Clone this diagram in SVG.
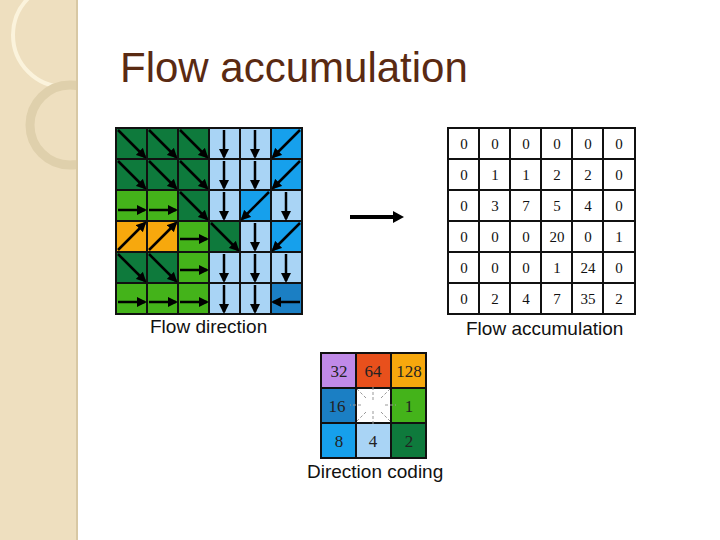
<svg xmlns="http://www.w3.org/2000/svg" width="720" height="540" viewBox="0 0 720 540">
<defs>
<marker id="ah" viewBox="0 0 10 10" refX="8" refY="5" markerWidth="4" markerHeight="4" orient="auto"><path d="M0,0L10,5L0,10z" fill="#000"/></marker>
<clipPath id="sb"><rect x="0" y="0" width="76" height="540"/></clipPath>
<style>
.c{stroke:#111;stroke-width:2}
.a{stroke:#000;stroke-width:2.5;fill:none;marker-end:url(#ah)}
.se{fill:#0e7a3c}.e{fill:#44b31a}.s{fill:#a9d4f5}.sw{fill:#16a0ec}.ne{fill:#f7a80d}.w{fill:#1b7fc4}
.lbl{font-family:"Liberation Sans",Arial,sans-serif;font-size:19px;fill:#111}
.n{font-family:"Liberation Serif","Times New Roman",serif;font-size:15px;fill:#111;text-anchor:middle}
.dc{font-family:"Liberation Serif","Times New Roman",serif;font-size:17px;fill:#222;text-anchor:middle}
</style>
</defs>
<rect width="720" height="540" fill="#fff"/>
<g id="sidebar">
<rect x="0" y="0" width="78" height="540" fill="#eedfbf"/>
<rect x="76" y="0" width="2" height="540" fill="#d8c8a4"/>
<g clip-path="url(#sb)">
<circle cx="65" cy="35" r="52" fill="none" stroke="#fbf3dc" stroke-width="4"/>
<circle cx="70" cy="125" r="40" fill="none" stroke="#dfd0ac" stroke-width="9"/>
</g>
</g>
<text x="120" y="82" font-family="Liberation Sans,Arial,sans-serif" font-size="42" fill="#5a2a12">Flow accumulation</text>
<g id="flow-direction">
<g class="c">
<rect class="se" x="116" y="128" width="31" height="31"/><rect class="se" x="147" y="128" width="31" height="31"/><rect class="se" x="178" y="128" width="31" height="31"/><rect class="s" x="209" y="128" width="31" height="31"/><rect class="s" x="240" y="128" width="31" height="31"/><rect class="sw" x="271" y="128" width="31" height="31"/>
<rect class="se" x="116" y="159" width="31" height="31"/><rect class="se" x="147" y="159" width="31" height="31"/><rect class="se" x="178" y="159" width="31" height="31"/><rect class="s" x="209" y="159" width="31" height="31"/><rect class="s" x="240" y="159" width="31" height="31"/><rect class="sw" x="271" y="159" width="31" height="31"/>
<rect class="e" x="116" y="190" width="31" height="31"/><rect class="e" x="147" y="190" width="31" height="31"/><rect class="se" x="178" y="190" width="31" height="31"/><rect class="s" x="209" y="190" width="31" height="31"/><rect class="sw" x="240" y="190" width="31" height="31"/><rect class="s" x="271" y="190" width="31" height="31"/>
<rect class="ne" x="116" y="221" width="31" height="31"/><rect class="ne" x="147" y="221" width="31" height="31"/><rect class="e" x="178" y="221" width="31" height="31"/><rect class="se" x="209" y="221" width="31" height="31"/><rect class="s" x="240" y="221" width="31" height="31"/><rect class="sw" x="271" y="221" width="31" height="31"/>
<rect class="se" x="116" y="252" width="31" height="31"/><rect class="se" x="147" y="252" width="31" height="31"/><rect class="e" x="178" y="252" width="31" height="31"/><rect class="s" x="209" y="252" width="31" height="31"/><rect class="s" x="240" y="252" width="31" height="31"/><rect class="s" x="271" y="252" width="31" height="31"/>
<rect class="e" x="116" y="283" width="31" height="31"/><rect class="e" x="147" y="283" width="31" height="31"/><rect class="e" x="178" y="283" width="31" height="31"/><rect class="s" x="209" y="283" width="31" height="31"/><rect class="s" x="240" y="283" width="31" height="31"/><rect class="w" x="271" y="283" width="31" height="31"/>
</g>
<g class="a">
<path d="M118,130L145,157"/><path d="M149,130L176,157"/><path d="M180,130L207,157"/><path d="M224,130V157"/><path d="M255,130V157"/><path d="M300,130L273,157"/>
<path d="M118,161L145,188"/><path d="M149,161L176,188"/><path d="M180,161L207,188"/><path d="M224,161V188"/><path d="M255,161V188"/><path d="M300,161L273,188"/>
<path d="M118,210H145"/><path d="M149,210H176"/><path d="M180,192L207,219"/><path d="M224,192V219"/><path d="M269,192L242,219"/><path d="M286,192V219"/>
<path d="M118,250L145,223"/><path d="M149,250L176,223"/><path d="M180,239H207"/><path d="M211,223L238,250"/><path d="M255,223V250"/><path d="M300,223L273,250"/>
<path d="M118,254L145,281"/><path d="M149,254L176,281"/><path d="M180,270H207"/><path d="M224,254V281"/><path d="M255,254V281"/><path d="M286,254V281"/>
<path d="M118,302H145"/><path d="M149,302H176"/><path d="M180,302H207"/><path d="M224,285V312"/><path d="M255,285V312"/><path d="M300,302H273"/>
</g>
<text class="lbl" x="150" y="333">Flow direction</text>
</g>
<g id="connectors">
<path d="M350,217H395" stroke="#000" stroke-width="4"/>
<path d="M393,211L404,217L393,223z" fill="#000"/>
</g>
<g id="flow-accumulation">
<rect x="448" y="128" width="187" height="186" fill="#fff" stroke="#111" stroke-width="2"/>
<g stroke="#111" stroke-width="2">
<path d="M479,128V314M510,128V314M541,128V314M572,128V314M603,128V314"/>
<path d="M448,159H635M448,190H635M448,221H635M448,252H635M448,283H635"/>
</g>
<g class="n">
<text x="464" y="149">0</text><text x="495" y="149">0</text><text x="526" y="149">0</text><text x="557" y="149">0</text><text x="588" y="149">0</text><text x="619" y="149">0</text>
<text x="464" y="180">0</text><text x="495" y="180">1</text><text x="526" y="180">1</text><text x="557" y="180">2</text><text x="588" y="180">2</text><text x="619" y="180">0</text>
<text x="464" y="211">0</text><text x="495" y="211">3</text><text x="526" y="211">7</text><text x="557" y="211">5</text><text x="588" y="211">4</text><text x="619" y="211">0</text>
<text x="464" y="242">0</text><text x="495" y="242">0</text><text x="526" y="242">0</text><text x="557" y="242">20</text><text x="588" y="242">0</text><text x="619" y="242">1</text>
<text x="464" y="273">0</text><text x="495" y="273">0</text><text x="526" y="273">0</text><text x="557" y="273">1</text><text x="588" y="273">24</text><text x="619" y="273">0</text>
<text x="464" y="304">0</text><text x="495" y="304">2</text><text x="526" y="304">4</text><text x="557" y="304">7</text><text x="588" y="304">35</text><text x="619" y="304">2</text>
</g>
<text class="lbl" x="466" y="335">Flow accumulation</text>
</g>
<g id="direction-coding">
<g class="c">
<rect fill="#c08ae8" x="321" y="353" width="35" height="35"/><rect fill="#e8501c" x="356" y="353" width="35" height="35"/><rect class="ne" x="391" y="353" width="35" height="35"/>
<rect class="w" x="321" y="388" width="35" height="35"/><rect fill="#fff" x="356" y="388" width="35" height="35"/><rect class="e" x="391" y="388" width="35" height="35"/>
<rect class="sw" x="321" y="423" width="35" height="35"/><rect class="s" x="356" y="423" width="35" height="35"/><rect class="se" x="391" y="423" width="35" height="35"/>
</g>
<g stroke="#999" stroke-width="1" stroke-dasharray="3,2">
<path d="M373,400V386M373,411V425M361,405H350M385,405H396M366,398L357,389M381,398L390,389M366,412L357,421M381,412L390,421"/>
</g>
<g class="dc">
<text x="339" y="377">32</text><text x="373" y="377">64</text><text x="409" y="377">128</text>
<text x="337" y="412">16</text><text x="409" y="412">1</text>
<text x="339" y="447">8</text><text x="373" y="447">4</text><text x="409" y="447">2</text>
</g>
<text class="lbl" x="307" y="478">Direction coding</text>
</g>
</svg>
